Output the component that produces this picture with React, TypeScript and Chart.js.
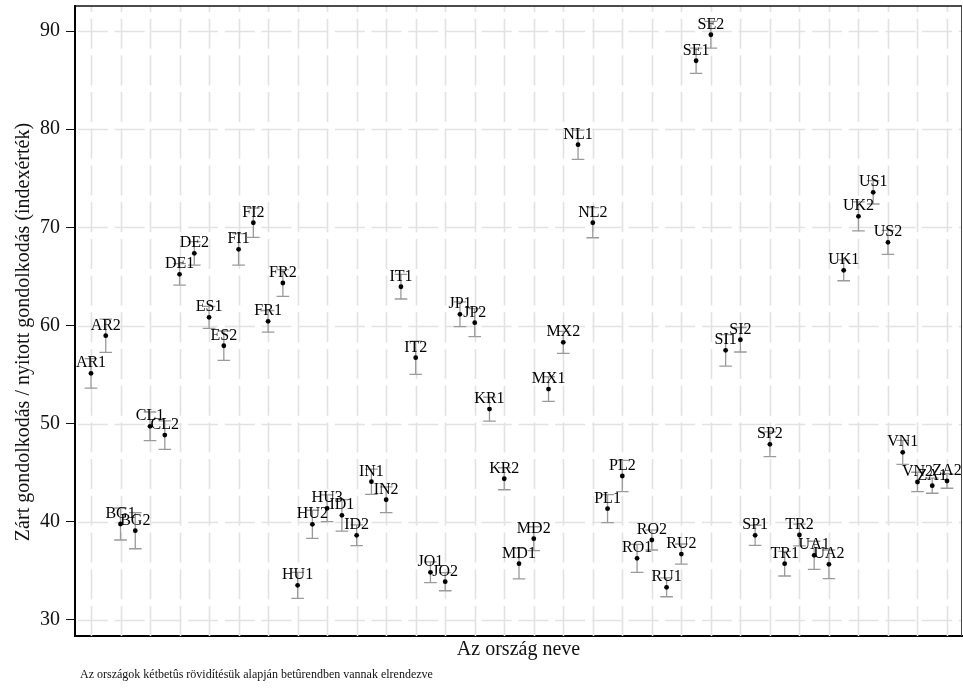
import React, { useEffect, useRef } from "react";
import { Chart, registerables } from "chart.js";

Chart.register(...registerables);

const categories: string[] = [
  "AR1", "AR2", "BG1", "BG2", "CL1", "CL2", "DE1", "DE2", "ES1", "ES2",
  "FI1", "FI2", "FR1", "FR2", "HU1", "HU2", "HU3", "ID1", "ID2", "IN1",
  "IN2", "IT1", "IT2", "JO1", "JO2", "JP1", "JP2", "KR1", "KR2", "MD1",
  "MD2", "MX1", "MX2", "NL1", "NL2", "PL1", "PL2", "RO1", "RO2", "RU1",
  "RU2", "SE1", "SE2", "SI1", "SI2", "SP1", "SP2", "TR1", "TR2", "UA1",
  "UA2", "UK1", "UK2", "US1", "US2", "VN1", "VN2", "ZA1", "ZA2",
];

const values: number[] = [
  55.13, 58.96, 39.78, 39.1, 49.73, 48.84, 65.21, 67.35, 60.83, 57.94,
  67.76, 70.47, 60.43, 64.33, 33.53, 39.75, 41.38, 40.66, 38.63, 44.09,
  42.25, 63.95, 56.72, 34.86, 33.9, 61.14, 60.29, 51.49, 44.39, 35.74,
  38.28, 53.53, 58.29, 78.42, 70.47, 41.34, 44.67, 36.28, 38.15, 33.33,
  36.72, 86.97, 89.62, 57.47, 58.55, 38.63, 47.9, 35.74, 38.66, 36.59,
  35.67, 65.62, 71.12, 73.57, 68.47, 47.08, 44.06, 43.68, 44.16,
];

// half-width of the confidence interval (index points)
const errorMargins: number[] = [
  1.5, 1.7, 1.63, 1.84, 1.46, 1.45, 1.1, 1.2, 1.12, 1.5,
  1.6, 1.5, 1.1, 1.36, 1.32, 1.43, 1.36, 1.6, 1.06, 1.29,
  1.32, 1.25, 1.69, 1.06, 0.92, 1.26, 1.43, 1.22, 1.12, 1.56,
  1.22, 1.25, 1.12, 1.49, 1.53, 1.43, 1.6, 1.42, 1.02, 0.96,
  1.02, 1.29, 1.36, 1.6, 1.25, 1.02, 1.26, 1.26, 1.1, 1.43,
  1.46, 1.06, 1.47, 1.19, 1.22, 1.22, 0.99, 0.77, 0.74,
];

const yTickValues: number[] = [30, 40, 50, 60, 70, 80, 90];

const yTitle = "Zárt gondolkodás / nyitott gondolkodás (indexérték)";
const xTitle = "Az ország neve";
const footnote =
  "Az országok kétbetûs rövidítésük alapján betûrendben vannak elrendezve";

const SERIF = '"Liberation Serif", "Times New Roman", serif';

const customPlugin = {
  id: "custom",
  beforeDatasetsDraw(chart: any) {
    const { ctx, chartArea } = chart;
    const xs = chart.scales.x;
    const ys = chart.scales.y;
    ctx.save();
    // grid lines
    ctx.strokeStyle = "#e2e2e2";
    ctx.lineWidth = 1.6;
    ctx.setLineDash([30, 6.7]);
    ctx.lineDashOffset = 24;
    for (let i = 1; i <= categories.length; i += 2) {
      const px = Math.round(xs.getPixelForValue(i)) + 0.5;
      ctx.beginPath();
      ctx.moveTo(px, chartArea.top);
      ctx.lineTo(px, chartArea.bottom);
      ctx.stroke();
    }
    ctx.lineDashOffset = -3;
    for (const v of yTickValues) {
      const py = Math.round(ys.getPixelForValue(v)) + 0.5;
      ctx.beginPath();
      ctx.moveTo(chartArea.left, py);
      ctx.lineTo(chartArea.right, py);
      ctx.stroke();
    }
    ctx.setLineDash([]);
    // error bars
    ctx.strokeStyle = "#9a9a9a";
    ctx.lineWidth = 1.3;
    for (let i = 0; i < categories.length; i++) {
      const px = xs.getPixelForValue(i + 1);
      const lo = ys.getPixelForValue(values[i] - errorMargins[i]);
      const hi = ys.getPixelForValue(values[i] + errorMargins[i]);
      ctx.beginPath();
      ctx.moveTo(px, lo);
      ctx.lineTo(px, hi);
      ctx.moveTo(px - 6.3, lo);
      ctx.lineTo(px + 6.3, lo);
      ctx.moveTo(px - 6.3, hi);
      ctx.lineTo(px + 6.3, hi);
      ctx.stroke();
    }
    ctx.restore();
  },
  afterDatasetsDraw(chart: any) {
    const { ctx, chartArea } = chart;
    const xs = chart.scales.x;
    const ys = chart.scales.y;
    ctx.save();
    // point labels
    ctx.fillStyle = "#000";
    ctx.font = `16px ${SERIF}`;
    ctx.textAlign = "center";
    ctx.textBaseline = "alphabetic";
    for (let i = 0; i < categories.length; i++) {
      const px = xs.getPixelForValue(i + 1);
      const py = ys.getPixelForValue(values[i]);
      ctx.fillText(categories[i], px, py - 6);
    }
    // top and right frame
    ctx.strokeStyle = "#111";
    ctx.lineWidth = 1.5;
    ctx.beginPath();
    ctx.moveTo(chartArea.left, chartArea.top);
    ctx.lineTo(chartArea.right, chartArea.top);
    ctx.stroke();
    ctx.strokeStyle = "#444";
    ctx.lineWidth = 1;
    ctx.beginPath();
    ctx.moveTo(chartArea.right - 0.5, chartArea.top);
    ctx.lineTo(chartArea.right - 0.5, chartArea.bottom);
    ctx.stroke();
    // titles
    ctx.fillStyle = "#111";
    ctx.font = `20px ${SERIF}`;
    ctx.textAlign = "center";
    ctx.textBaseline = "middle";
    ctx.fillText(xTitle, (chartArea.left + chartArea.right) / 2, 650);
    ctx.save();
    ctx.translate(24, 332);
    ctx.rotate(-Math.PI / 2);
    ctx.fillText(yTitle, 0, 0);
    ctx.restore();
    ctx.font = `12px ${SERIF}`;
    ctx.textAlign = "left";
    ctx.fillText(footnote, 80, 675);
    ctx.restore();
  },
};

export default function App() {
  const canvasRef = useRef<HTMLCanvasElement | null>(null);

  useEffect(() => {
    document.body.style.margin = "0";
    const canvas = canvasRef.current;
    if (!canvas) return;
    const chart = new Chart(canvas, {
      type: "scatter",
      data: {
        datasets: [
          {
            data: categories.map((_, i) => ({ x: i + 1, y: values[i] })),
            pointRadius: 2.4,
            pointBackgroundColor: "#000",
            pointBorderWidth: 0,
            backgroundColor: "#000",
            borderColor: "#000",
          },
        ],
      },
      options: {
        responsive: false,
        maintainAspectRatio: false,
        animation: false,
        layout: { autoPadding: false, padding: { top: 6, right: 1, left: 0, bottom: 0 } },
        plugins: {
          legend: { display: false },
          tooltip: { enabled: false },
        },
        scales: {
          x: {
            type: "linear",
            min: -0.084,
            max: 60.016,
            ticks: { display: false },
            grid: { display: false },
            border: { display: true, color: "#000", width: 2 },
            afterFit: (s: any) => {
              s.height = 52;
              s.paddingLeft = 0;
              s.paddingRight = 0;
              s.paddingTop = 0;
              s.paddingBottom = 0;
            },
          },
          y: {
            type: "linear",
            min: 28.37,
            max: 92.55,
            afterBuildTicks: (s: any) => {
              s.ticks = yTickValues.map((v) => ({ value: v }));
            },
            ticks: {
              color: "#111",
              font: { family: SERIF, size: 20 },
              padding: 6,
            },
            grid: {
              drawOnChartArea: false,
              drawTicks: true,
              tickLength: 9,
              tickColor: "#111",
              tickWidth: 1,
            },
            border: { display: true, color: "#000", width: 2 },
            afterFit: (s: any) => {
              s.width = 75;
              s.paddingLeft = 0;
              s.paddingRight = 0;
              s.paddingTop = 0;
              s.paddingBottom = 0;
            },
          },
        },
      },
      plugins: [customPlugin],
    } as any);
    return () => chart.destroy();
  }, []);

  return (
    <div style={{ position: "absolute", left: 0, top: 0, width: 963, height: 688, background: "#fff" }}>
      <canvas ref={canvasRef} width={963} height={688} style={{ display: "block" }} />
    </div>
  );
}
